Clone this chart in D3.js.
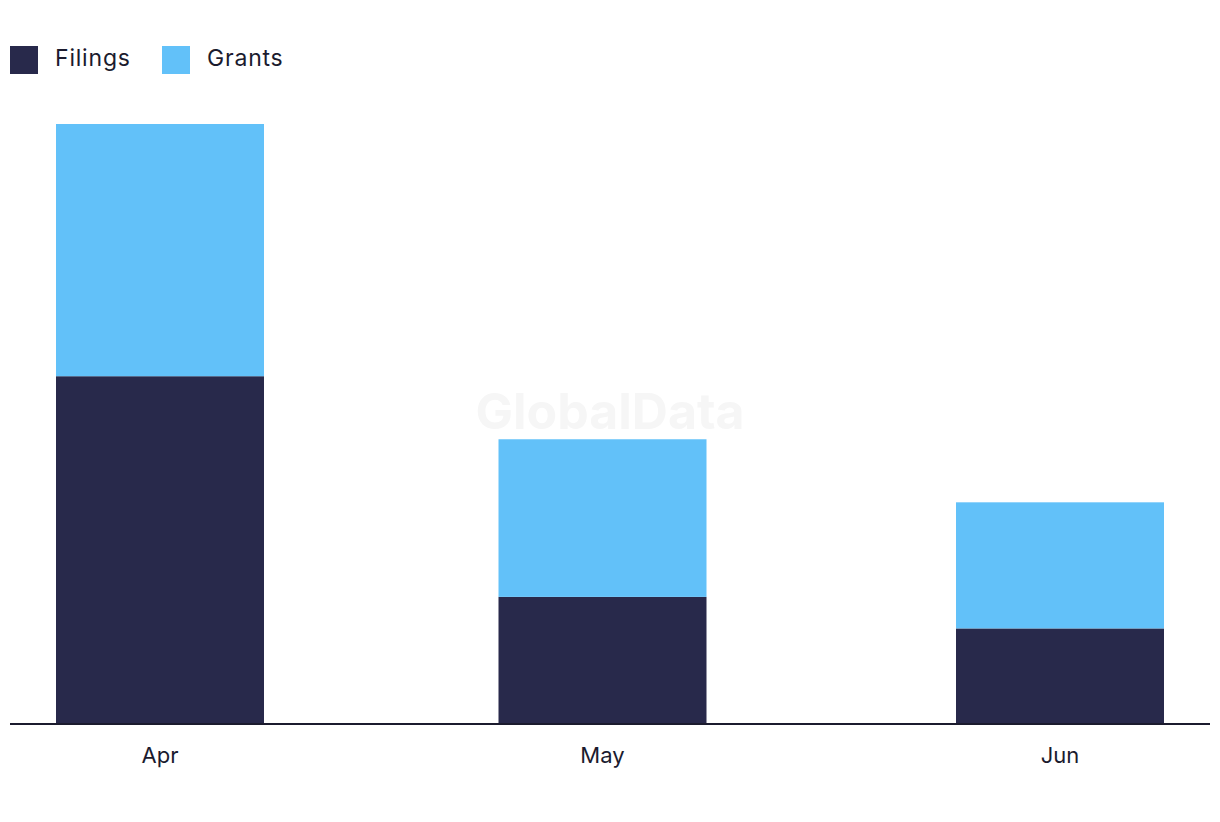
<!DOCTYPE html>
<html>
<head>
<meta charset="utf-8">
<script src="https://cdn.jsdelivr.net/npm/d3@7"></script>
<style>
  body { margin: 0; background: #fff; }
  text { font-family: Inter, "Noto Sans", sans-serif; }
</style>
</head>
<body>
<div id="chart"></div>
<script>
// Data
const months = ["Apr", "May", "Jun"];
const filings = [11, 4, 3];
const grants = [8, 5, 4];
const seriesNames = ["Filings", "Grants"];
const colors = ["#28294b", "#62c1f9"];

const width = 1220, height = 822;
const baseY = 723, topY = 124;

const svg = d3.select("#chart")
    .append("svg")
    .attr("width", width)
    .attr("height", height);

// watermark
svg.append("text")
    .attr("x", 610).attr("y", 429)
    .attr("text-anchor", "middle")
    .attr("font-size", 50)
    .attr("font-weight", 700)
    .attr("fill", "#f6f6f6")
    .text("GlobalData");

const table = months.map((m, i) => ({ month: m, Filings: filings[i], Grants: grants[i] }));
const stacked = d3.stack().keys(seriesNames)(table);

// Scales
const xScale = d3.scaleOrdinal().domain(months).range([160, 602.5, 1060]);
const barW = 208;
const yScale = d3.scaleLinear()
    .domain([0, d3.max(table, d => d.Filings + d.Grants)])
    .range([baseY, topY]);

// Bars
svg.append("g")
    .selectAll("g")
    .data(stacked)
    .join("g")
    .attr("fill", (d, i) => colors[i])
    .selectAll("rect")
    .data(d => d)
    .join("rect")
    .attr("x", d => xScale(d.data.month) - barW / 2)
    .attr("y", d => yScale(d[1]))
    .attr("width", barW)
    .attr("height", d => yScale(d[0]) - yScale(d[1]));

// X axis
const xAxis = svg.append("g")
    .attr("transform", `translate(0,${baseY + 1})`);
xAxis.append("line")
    .attr("x1", 10).attr("x2", 1210)
    .attr("stroke", "#1b1b2e")
    .attr("stroke-width", 2);
xAxis.selectAll("text.tick")
    .data(months)
    .join("text")
    .attr("class", "tick")
    .attr("x", d => xScale(d))
    .attr("y", 39)
    .attr("text-anchor", "middle")
    .attr("font-size", 22)
    .attr("fill", "#1b1b2e")
    .text(d => d);

// Legend
const legendX = [10, 162];
const legend = svg.append("g")
    .selectAll("g")
    .data(seriesNames)
    .join("g")
    .attr("transform", (d, i) => `translate(${legendX[i]},46)`);
legend.append("rect")
    .attr("width", 28).attr("height", 28)
    .attr("fill", (d, i) => colors[i]);
legend.append("text")
    .attr("x", 45).attr("y", 20)
    .attr("font-size", 23)
    .attr("letter-spacing", 0.8)
    .attr("fill", "#1b1b2e")
    .text(d => d);
</script>
</body>
</html>
